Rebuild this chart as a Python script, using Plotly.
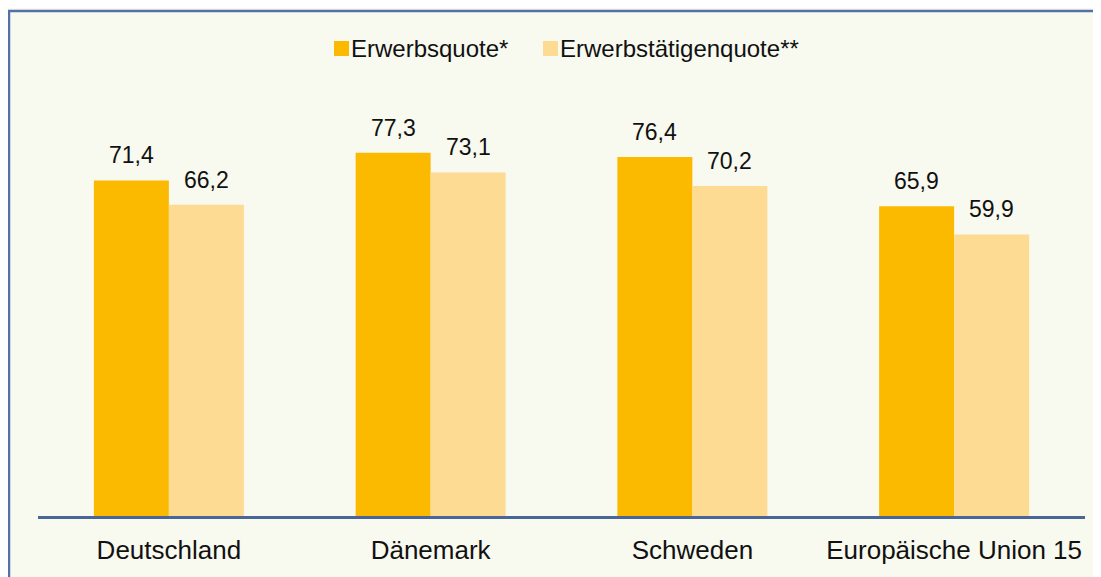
import plotly.graph_objects as go

categories = ["Deutschland", "Dänemark", "Schweden", "Europäische Union 15"]
erwerbsquote = [71.4, 77.3, 76.4, 65.9]
erwerbstaetigenquote = [66.2, 73.1, 70.2, 59.9]
series_names = ["Erwerbsquote*", "Erwerbstätigenquote**"]

C1 = "#FBBA00"
C2 = "#FDDB93"
BG = "#F8F9EF"
FONT = "Liberation Sans, Arial, sans-serif"

# page is offset by the default 8px body margin
OFF = 8
W, H = 1101 - OFF, 577 - OFF
ml, mt = 38 - OFF, 46 - OFF
mr = W - (1085 - OFF)
mb = H - (516 - OFF)
pw, ph = W - ml - mr, H - mt - mb

def px(x):
    return (x - OFF - ml) / pw
def py(y):
    return 1 - (y - OFF - mt) / ph

fig = go.Figure()
fig.add_trace(go.Bar(x=categories, y=erwerbsquote, name=series_names[0],
                     marker=dict(color=C1, line=dict(width=0))))
fig.add_trace(go.Bar(x=categories, y=erwerbstaetigenquote, name=series_names[1],
                     marker=dict(color=C2, line=dict(width=0))))

def fmt(v):
    return f"{v:.1f}".replace(".", ",")

half = (1 - 0.427) / 2 * pw / len(categories) / 2
annotations = []
for vals, sh in [(erwerbsquote, -half), (erwerbstaetigenquote, half)]:
    for cat, v in zip(categories, vals):
        annotations.append(dict(x=cat, y=v, text=fmt(v), showarrow=False, xref="x", yref="y",
                                xanchor="center", yanchor="bottom", xshift=sh, yshift=10,
                                font=dict(family=FONT, size=23, color="#111111")))

shapes = []
for (x0, name, col) in [(334, series_names[0], C1), (543, series_names[1], C2)]:
    shapes.append(dict(type="rect", xref="paper", yref="paper",
                       x0=px(x0), x1=px(x0 + 15), y0=py(56), y1=py(41),
                       fillcolor=col, line=dict(width=0)))
    annotations.append(dict(x=px(x0 + 15), y=py(49), xref="paper", yref="paper",
                            text=name, showarrow=False, xanchor="left", yanchor="middle",
                            font=dict(family=FONT, size=24, color="#111111")))

# outer frame
shapes.append(dict(type="rect", xref="paper", yref="paper",
                   x0=px(9), x1=px(1130), y0=py(620), y1=py(11),
                   line=dict(color="#5470A8", width=2.5), fillcolor="rgba(0,0,0,0)", layer="below"))

fig.update_layout(
    width=W, height=H,
    margin=dict(l=ml, r=mr, t=mt, b=mb),
    paper_bgcolor=BG, plot_bgcolor=BG,
    barmode="group", bargap=0.427, bargroupgap=0,
    showlegend=False,
    font=dict(family=FONT, size=23, color="#111111"),
    xaxis=dict(showline=True, linecolor="#4A6699", linewidth=3, ticks="",
               tickfont=dict(family=FONT, size=26, color="#111111"),
               showgrid=False, zeroline=False, ticklabelstandoff=9),
    yaxis=dict(range=[0, 100], visible=False, showgrid=False, zeroline=False),
    annotations=annotations, shapes=shapes,
)

fig.write_html("out.html")
